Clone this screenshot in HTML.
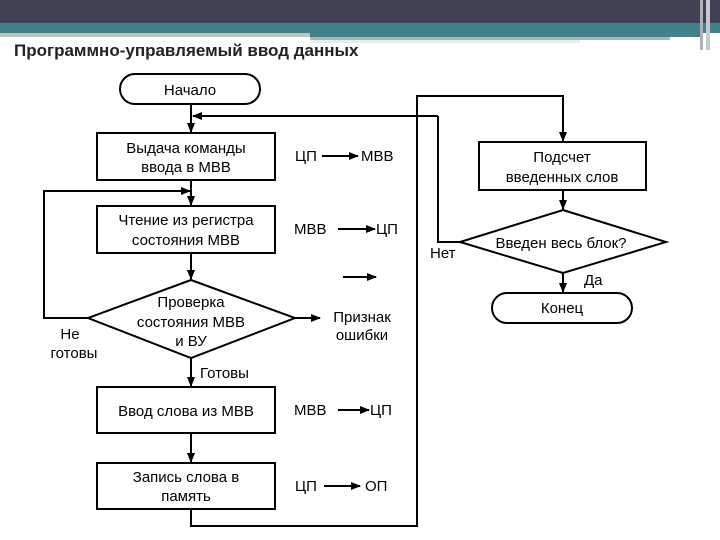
<!DOCTYPE html>
<html><head><meta charset="utf-8"><style>
html,body{margin:0;padding:0;background:#fff;}
body{width:720px;height:540px;position:relative;overflow:hidden;font-family:"Liberation Sans",sans-serif;}
</style></head><body>
<svg width="720" height="540" viewBox="0 0 720 540" xmlns="http://www.w3.org/2000/svg" style="position:absolute;left:0;top:0">
<defs><marker id="a" markerWidth="10" markerHeight="8" refX="9" refY="4" orient="auto" markerUnits="userSpaceOnUse"><path d="M0,0 L10,4 L0,8 Z" fill="#000"/></marker></defs>
<rect x="0" y="0" width="720" height="24" fill="#3e4252"/>
<rect x="0" y="23" width="720" height="10" fill="#40818a"/>
<rect x="0" y="33" width="310" height="4" fill="#b8c6c8"/>
<rect x="310" y="33" width="390" height="4" fill="#40818a"/>
<rect x="310" y="37" width="360" height="3" fill="#a9b9bb"/>
<rect x="310" y="40" width="270" height="3" fill="#e8eeee"/>
<rect x="700" y="0" width="3" height="50" fill="#b0b0b8"/>
<rect x="706" y="0" width="4" height="50" fill="#c8c8d0"/>
<text x="14" y="56" font-size="17" font-weight="bold" fill="#222">Программно-управляемый ввод  данных</text>
<g fill="none" stroke="#000" stroke-width="2">
<rect x="120" y="74" width="140" height="30" rx="15"/>
<rect x="97" y="133" width="178" height="47"/>
<rect x="97" y="206" width="178" height="47"/>
<path d="M191,280 L295,318 L191,358 L88,318 Z"/>
<rect x="97" y="387" width="178" height="46"/>
<rect x="97" y="463" width="178" height="46"/>
<rect x="479" y="142" width="167" height="48"/>
<path d="M563,210 L666,242 L563,273 L460,242 Z"/>
<rect x="492" y="293" width="140" height="30" rx="15"/>
<line x1="191" y1="104" x2="191" y2="132" marker-end="url(#a)"/>
<line x1="438" y1="116" x2="193" y2="116" marker-end="url(#a)"/>
<polyline points="460,242 438,242 438,116"/>
<line x1="191" y1="180" x2="191" y2="205" marker-end="url(#a)"/>
<polyline points="88,318 44,318 44,191 190,191" marker-end="url(#a)"/>
<line x1="191" y1="253" x2="191" y2="279" marker-end="url(#a)"/>
<line x1="295" y1="318" x2="320" y2="318" marker-end="url(#a)"/>
<line x1="343" y1="277" x2="376" y2="277" marker-end="url(#a)"/>
<line x1="191" y1="358" x2="191" y2="386" marker-end="url(#a)"/>
<line x1="191" y1="433" x2="191" y2="462" marker-end="url(#a)"/>
<polyline points="191,509 191,526 417,526 417,96 563,96 563,141" marker-end="url(#a)"/>
<line x1="563" y1="190" x2="563" y2="209" marker-end="url(#a)"/>
<line x1="563" y1="273" x2="563" y2="292" marker-end="url(#a)"/>
<line x1="322" y1="156" x2="358" y2="156" marker-end="url(#a)"/>
<line x1="338" y1="229" x2="375" y2="229" marker-end="url(#a)"/>
<line x1="338" y1="410" x2="369" y2="410" marker-end="url(#a)"/>
<line x1="324" y1="486" x2="360" y2="486" marker-end="url(#a)"/>
</g>
<g font-size="15" fill="#000" text-anchor="middle">
<text x="190" y="95">Начало</text>
<text x="186" y="153">Выдача команды</text>
<text x="186" y="172">ввода в МВВ</text>
<text x="186" y="225">Чтение из регистра</text>
<text x="186" y="245">состояния  МВВ</text>
<text x="191" y="307">Проверка</text>
<text x="191" y="327">состояния МВВ</text>
<text x="191" y="346">и ВУ</text>
<text x="186" y="416">Ввод слова из МВВ</text>
<text x="186" y="482">Запись слова в</text>
<text x="186" y="501">память</text>
<text x="562" y="162">Подсчет</text>
<text x="562" y="182">введенных слов</text>
<text x="561" y="248">Введен весь блок?</text>
<text x="562" y="313">Конец</text>
<text x="362" y="322">Признак</text>
<text x="362" y="340">ошибки</text>
<text x="70" y="339">Не</text>
<text x="74" y="358">готовы</text>
</g>
<g font-size="15" fill="#000">
<text x="295" y="161">ЦП</text><text x="361" y="161">МВВ</text>
<text x="294" y="234">МВВ</text><text x="376" y="234">ЦП</text>
<text x="294" y="415">МВВ</text><text x="370" y="415">ЦП</text>
<text x="295" y="491">ЦП</text><text x="365" y="491">ОП</text>
<text x="200" y="378">Готовы</text>
<text x="430" y="258">Нет</text>
<text x="584" y="285">Да</text>
</g>
</svg>
</body></html>
